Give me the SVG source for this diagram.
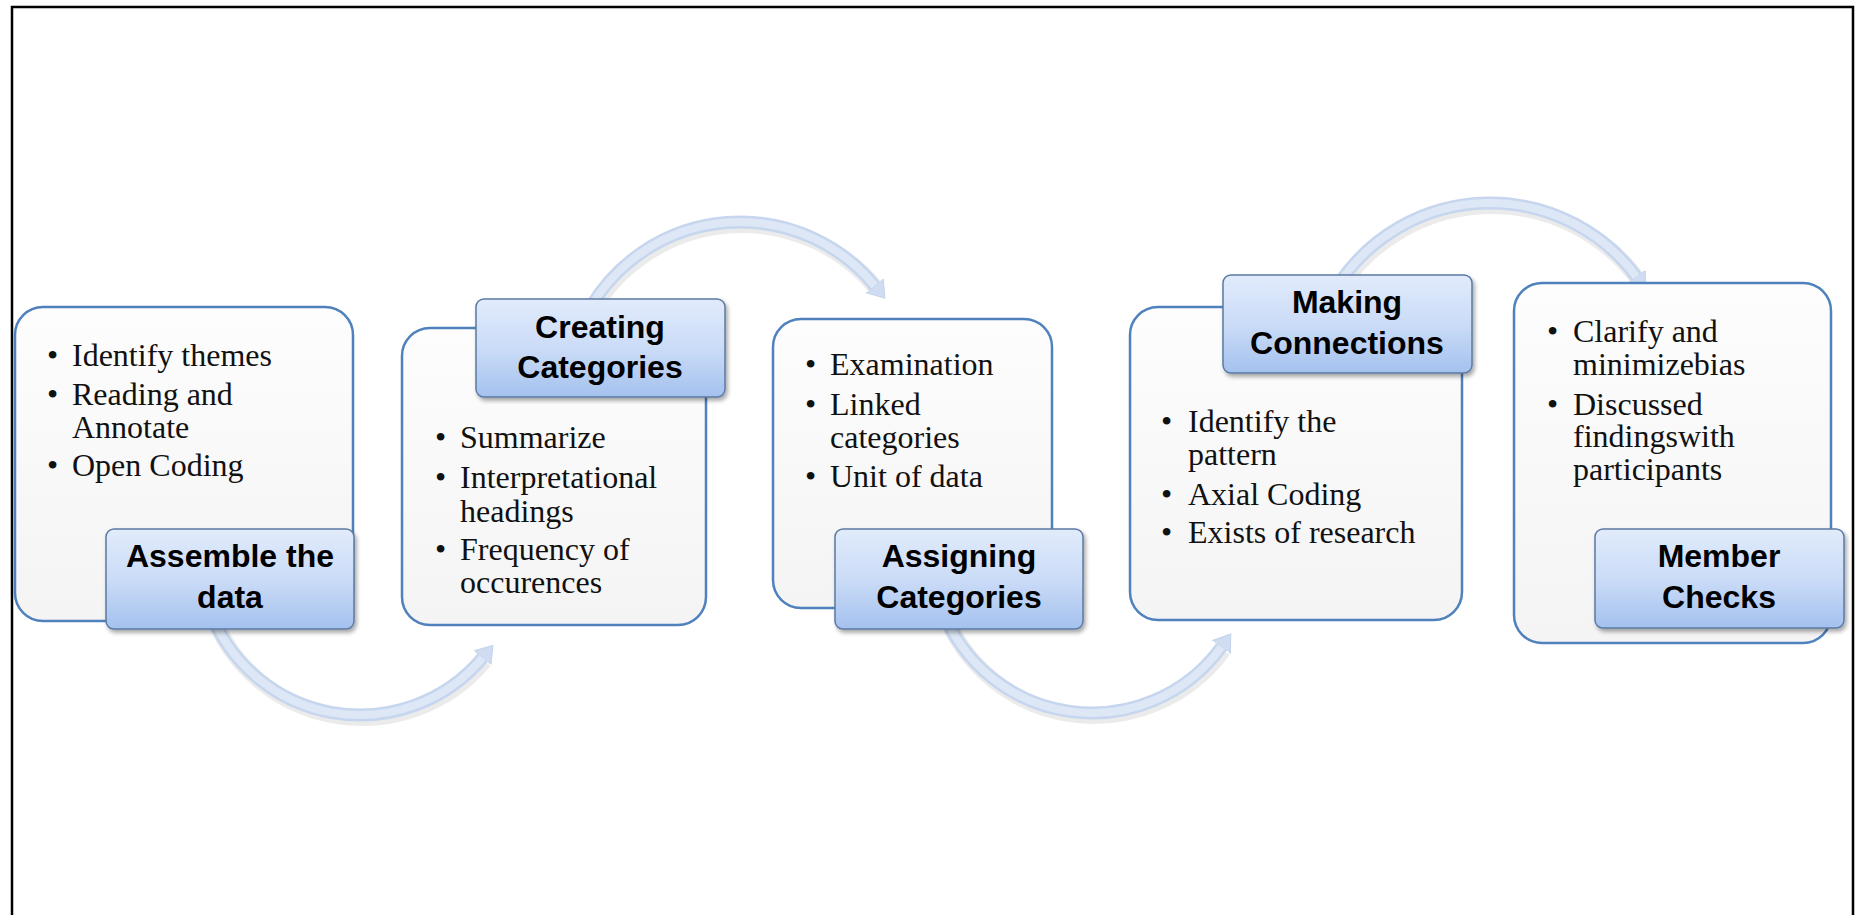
<svg xmlns="http://www.w3.org/2000/svg" width="1861" height="915" viewBox="0 0 1861 915">
<style>
.frame{fill:none;stroke:#000;stroke-width:2.5}
.box{fill:url(#boxGrad);stroke:#4f81bd;stroke-width:2.5}
.lbl{fill:url(#lblGrad);stroke:#5b7aa3;stroke-width:1.5;filter:url(#shadow)}
.t{font-family:"Liberation Serif","Times New Roman",serif;font-size:32px;fill:#111}
.h{font-family:"Liberation Sans",Arial,sans-serif;font-weight:bold;font-size:32px;text-anchor:middle;fill:#000}
.arrShadow{fill:none;stroke:#000;stroke-opacity:0.08;stroke-width:16}
.arrOuter{fill:none;stroke:#c6d6ee;stroke-width:13}
.arrInner{fill:none;stroke:#dde7f6;stroke-width:8}
</style>
<defs>
<linearGradient id="boxGrad" x1="0" y1="0" x2="0" y2="1">
<stop offset="0" stop-color="#fdfdfd"/>
<stop offset="1" stop-color="#f4f4f4"/>
</linearGradient>
<linearGradient id="lblGrad" x1="0" y1="0" x2="0" y2="1">
<stop offset="0" stop-color="#e1ebfb"/>
<stop offset="0.5" stop-color="#cbdcf7"/>
<stop offset="1" stop-color="#a4c1ee"/>
</linearGradient>
<filter id="shadow" x="-10%" y="-10%" width="125%" height="130%">
<feDropShadow dx="2" dy="3" stdDeviation="2" flood-color="#000" flood-opacity="0.35"/>
</filter>
<marker id="head" markerUnits="userSpaceOnUse" markerWidth="30" markerHeight="30" refX="0" refY="12" orient="auto" viewBox="0 0 30 24">
<path d="M0,1 L16,12 L0,23 Z" fill="#cfdcf1" stroke="#c2d3ec" stroke-width="1"/>
</marker>
</defs>

<path class="frame" d="M12,920 V7 H1853 V920"/>

<g id="connectors">
<g transform="translate(2,3)">
<path class="arrShadow" d="M209.6,609.7 A160,160 0 0 0 482.6,657.8"/>
<path class="arrShadow" d="M590,308 A174,174 0 0 1 874.7,285.8"/>
<path class="arrShadow" d="M941.6,607.7 A160,160 0 0 0 1221.4,647"/>
<path class="arrShadow" d="M1340,282 A182,182 0 0 1 1636.3,276.7"/>
</g>
<path class="arrOuter" marker-end="url(#head)" d="M209.6,609.7 A160,160 0 0 0 482.6,657.8"/>
<path class="arrInner" d="M209.6,609.7 A160,160 0 0 0 482.6,657.8"/>
<path class="arrOuter" marker-end="url(#head)" d="M590,308 A174,174 0 0 1 874.7,285.8"/>
<path class="arrInner" d="M590,308 A174,174 0 0 1 874.7,285.8"/>
<path class="arrOuter" marker-end="url(#head)" d="M941.6,607.7 A160,160 0 0 0 1221.4,647"/>
<path class="arrInner" d="M941.6,607.7 A160,160 0 0 0 1221.4,647"/>
<path class="arrOuter" marker-end="url(#head)" d="M1340,282 A182,182 0 0 1 1636.3,276.7"/>
<path class="arrInner" d="M1340,282 A182,182 0 0 1 1636.3,276.7"/>
</g>

<g id="node-assemble">
<rect class="box" x="15" y="307" width="338" height="314" rx="28"/>
<text class="t" x="47" y="366">•</text><text class="t" x="72" y="366">Identify themes</text>
<text class="t" x="47" y="405">•</text><text class="t" x="72" y="405">Reading and</text>
<text class="t" x="72" y="438">Annotate</text>
<text class="t" x="47" y="476">•</text><text class="t" x="72" y="476">Open Coding</text>
<rect class="lbl" x="106" y="529" width="248" height="100" rx="8"/>
<text class="h" x="230" y="567">Assemble the</text>
<text class="h" x="230" y="608">data</text>
</g>

<g id="node-creating">
<rect class="box" x="402" y="328" width="304" height="297" rx="28"/>
<text class="t" x="435" y="448">•</text><text class="t" x="460" y="448">Summarize</text>
<text class="t" x="435" y="488">•</text><text class="t" x="460" y="488">Interpretational</text>
<text class="t" x="460" y="522">headings</text>
<text class="t" x="435" y="560">•</text><text class="t" x="460" y="560">Frequency of</text>
<text class="t" x="460" y="593">occurences</text>
<rect class="lbl" x="476" y="299" width="249" height="98" rx="8"/>
<text class="h" x="600" y="338">Creating</text>
<text class="h" x="600" y="378">Categories</text>
</g>

<g id="node-assigning">
<rect class="box" x="773" y="319" width="279" height="289" rx="28"/>
<text class="t" x="805" y="375">•</text><text class="t" x="830" y="375">Examination</text>
<text class="t" x="805" y="415">•</text><text class="t" x="830" y="415">Linked</text>
<text class="t" x="830" y="448">categories</text>
<text class="t" x="805" y="487">•</text><text class="t" x="830" y="487">Unit of data</text>
<rect class="lbl" x="835" y="529" width="248" height="100" rx="8"/>
<text class="h" x="959" y="567">Assigning</text>
<text class="h" x="959" y="608">Categories</text>
</g>

<g id="node-connections">
<rect class="box" x="1130" y="307" width="332" height="313" rx="28"/>
<text class="t" x="1161" y="432">•</text><text class="t" x="1188" y="432">Identify the</text>
<text class="t" x="1188" y="465">pattern</text>
<text class="t" x="1161" y="505">•</text><text class="t" x="1188" y="505">Axial Coding</text>
<text class="t" x="1161" y="543">•</text><text class="t" x="1188" y="543">Exists of research</text>
<rect class="lbl" x="1223" y="275" width="249" height="98" rx="8"/>
<text class="h" x="1347" y="313">Making</text>
<text class="h" x="1347" y="354">Connections</text>
</g>

<g id="node-member">
<rect class="box" x="1514" y="283" width="317" height="360" rx="28"/>
<text class="t" x="1547" y="342">•</text><text class="t" x="1573" y="342">Clarify and</text>
<text class="t" x="1573" y="375">minimizebias</text>
<text class="t" x="1547" y="415">•</text><text class="t" x="1573" y="415">Discussed</text>
<text class="t" x="1573" y="447">findingswith</text>
<text class="t" x="1573" y="480">participants</text>
<rect class="lbl" x="1595" y="529" width="249" height="99" rx="8"/>
<text class="h" x="1719" y="567">Member</text>
<text class="h" x="1719" y="608">Checks</text>
</g>
</svg>
